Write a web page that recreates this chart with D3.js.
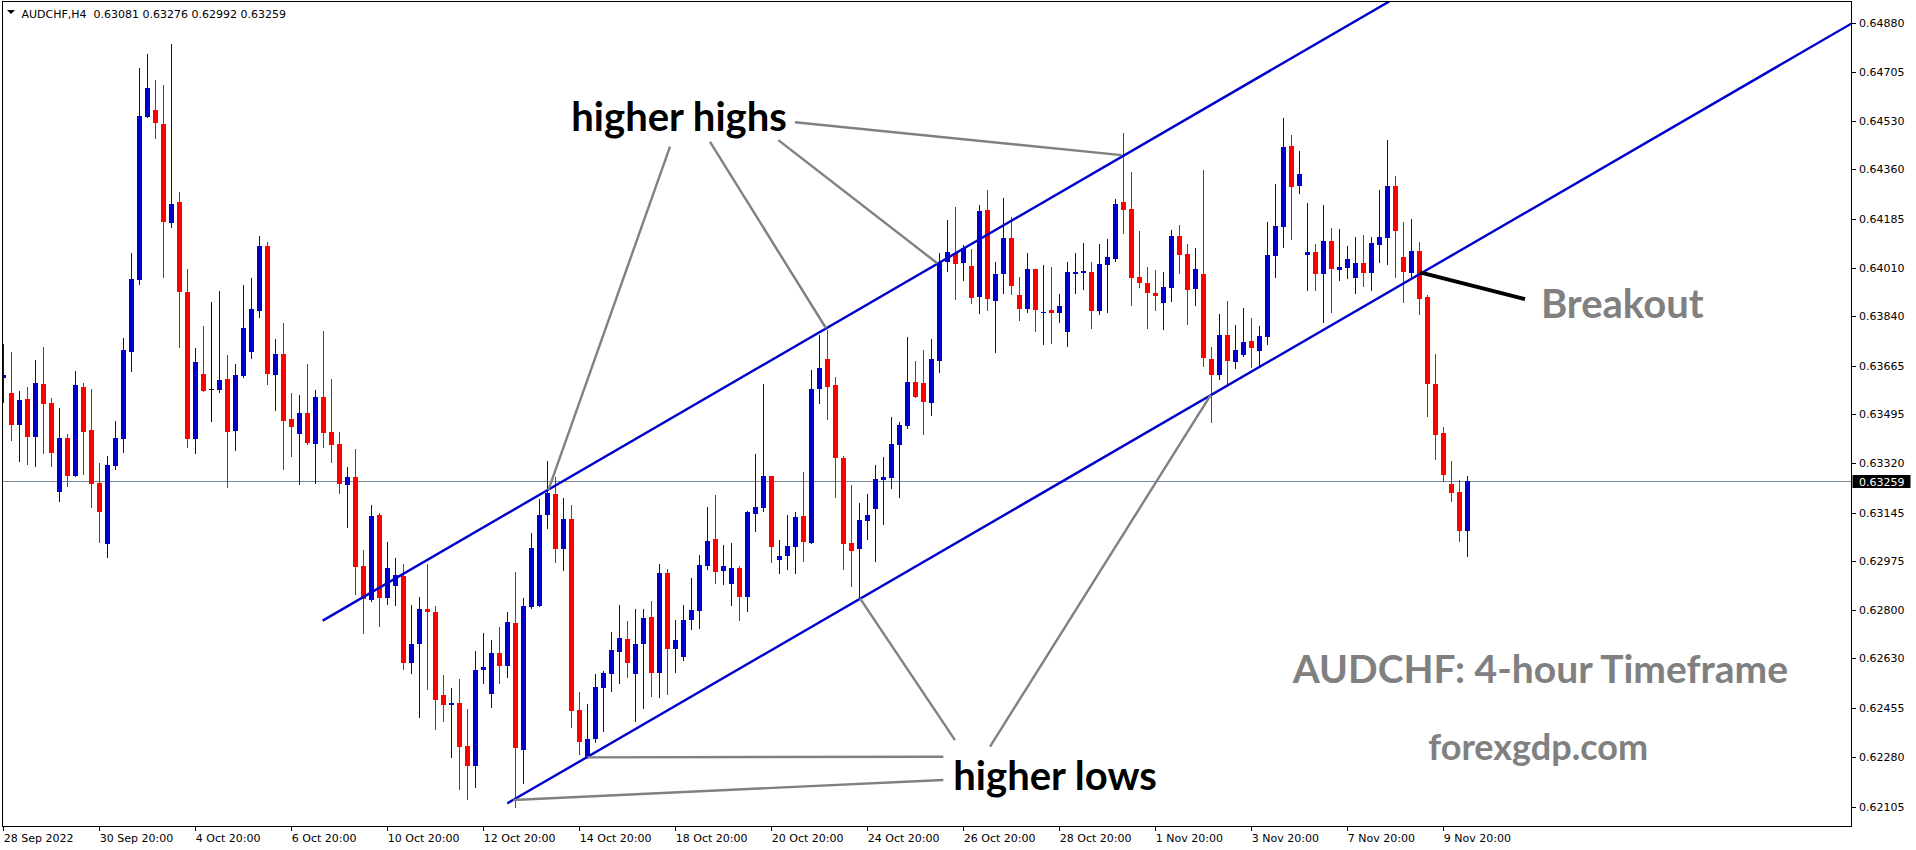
<!DOCTYPE html>
<html><head><meta charset="utf-8">
<script src="https://cdn.jsdelivr.net/npm/d3@7/dist/d3.min.js"></script>
<style>
html,body{margin:0;padding:0;background:#fff;}
svg{display:block;}
</style></head>
<body>
<svg id="chart" width="1916" height="850"></svg>
<script>
// ---------- data ----------
const symbolTitle = "AUDCHF,H4";
const lastOHLC = [0.63081, 0.63276, 0.62992, 0.63259];
const currentPrice = 0.63259;

const dateLabels = ["28 Sep 2022","30 Sep 20:00","4 Oct 20:00","6 Oct 20:00","10 Oct 20:00","12 Oct 20:00","14 Oct 20:00","18 Oct 20:00","20 Oct 20:00","24 Oct 20:00","26 Oct 20:00","28 Oct 20:00","1 Nov 20:00","3 Nov 20:00","7 Nov 20:00","9 Nov 20:00"];
const barsPerDateLabel = 12;

const priceTicks = [0.64880,0.64705,0.64530,0.64360,0.64185,0.64010,0.63840,0.63665,0.63495,0.63320,0.63145,0.62975,0.62800,0.62630,0.62455,0.62280,0.62105];

const open = [0.63621,0.63568,0.63457,0.63548,0.63414,0.63601,0.63534,0.63219,0.63410,0.63276,
0.63590,0.63438,0.63251,0.63036,0.63310,0.63407,0.63715,0.63970,0.64547,0.64571,
0.64521,0.64172,0.64245,0.63926,0.63407,0.63636,0.63582,0.63581,0.63619,0.63435,
0.63628,0.63715,0.63860,0.64089,0.63634,0.63707,0.63477,0.63422,0.63497,0.63388,
0.63554,0.63431,0.63388,0.63244,0.63271,0.62956,0.62836,0.63137,0.62844,0.62887,
0.62921,0.62614,0.62681,0.62803,0.62794,0.62500,0.62465,0.62471,0.62319,0.62249,
0.62589,0.62504,0.62648,0.62603,0.62755,0.62305,0.62812,0.62815,0.63137,0.63211,
0.63018,0.63123,0.62447,0.62281,0.62345,0.62526,0.62575,0.62653,0.62698,0.62575,
0.62680,0.62775,0.62579,0.62932,0.62664,0.62635,0.62765,0.62798,0.62957,0.63052,
0.62940,0.62893,0.62950,0.62848,0.63142,0.63163,0.63275,0.62979,0.62992,0.63025,
0.63133,0.63039,0.63584,0.63689,0.63597,0.63340,0.63038,0.63018,0.63117,0.63159,
0.63262,0.63268,0.63386,0.63452,0.63608,0.63604,0.63534,0.63683,0.64034,0.64064,
0.64030,0.64019,0.63910,0.64217,0.63896,0.63991,0.64117,0.63916,0.63867,0.64008,
0.63853,0.63863,0.63853,0.63784,0.63991,0.63995,0.63997,0.63860,0.64023,0.64044,
0.64245,0.64221,0.63979,0.63958,0.63924,0.63888,0.63942,0.64125,0.64061,0.63938,
0.63990,0.63689,0.63634,0.63774,0.63680,0.63703,0.63753,0.63719,0.63767,0.64054,
0.64156,0.64443,0.64302,0.64058,0.64068,0.63990,0.64107,0.64004,0.64011,0.63976,
0.64029,0.63994,0.64093,0.64117,0.64302,0.64050,0.63994,0.64072,0.63909,0.63601,
0.63427,0.63247,0.63218,0.63081];

const high = [0.63741,0.63714,0.63576,0.63590,0.63686,0.63731,0.63551,0.63516,0.63424,0.63646,
0.63605,0.63584,0.63321,0.63347,0.63469,0.63764,0.64065,0.64721,0.64769,0.64677,
0.64659,0.64805,0.64280,0.64008,0.63728,0.63806,0.63891,0.63930,0.63703,0.63672,
0.63951,0.63976,0.64124,0.64103,0.63760,0.63817,0.63569,0.63562,0.63671,0.63579,
0.63788,0.63617,0.63431,0.63308,0.63371,0.63013,0.63172,0.63144,0.63041,0.62986,
0.62963,0.62818,0.62848,0.62963,0.62816,0.62571,0.62526,0.62556,0.62450,0.62657,
0.62720,0.62694,0.62742,0.62794,0.62935,0.62843,0.63074,0.63194,0.63328,0.63273,
0.63197,0.63173,0.62510,0.62468,0.62574,0.62586,0.62723,0.62819,0.62762,0.62804,
0.62805,0.62832,0.62963,0.62947,0.62765,0.62819,0.62914,0.62995,0.63165,0.63207,
0.63030,0.63037,0.62956,0.63151,0.63353,0.63601,0.63275,0.63048,0.63137,0.63148,
0.63289,0.63650,0.63774,0.63792,0.63625,0.63346,0.63243,0.63179,0.63211,0.63314,
0.63342,0.63485,0.63467,0.63767,0.63683,0.63721,0.63760,0.64064,0.64181,0.64227,
0.64093,0.64079,0.64234,0.64287,0.64031,0.64259,0.64193,0.63979,0.64064,0.64008,
0.64022,0.64015,0.63919,0.64033,0.64064,0.64100,0.64033,0.64096,0.64114,0.64256,
0.64489,0.64351,0.64142,0.64015,0.64004,0.63997,0.64146,0.64164,0.64096,0.64082,
0.64358,0.63732,0.63848,0.63895,0.63810,0.63870,0.63834,0.63806,0.64174,0.64309,
0.64542,0.64482,0.64426,0.64241,0.64096,0.64234,0.64153,0.64149,0.64089,0.64121,
0.64128,0.64121,0.64287,0.64464,0.64337,0.64174,0.64185,0.64103,0.63916,0.63707,
0.63448,0.63328,0.63261,0.63276];

const low = [0.63537,0.63404,0.63329,0.63319,0.63309,0.63358,0.63311,0.63188,0.63241,0.63274,
0.63283,0.63166,0.63042,0.62988,0.63301,0.63361,0.63648,0.63956,0.64547,0.64473,
0.63979,0.64157,0.63731,0.63376,0.63358,0.63577,0.63471,0.63571,0.63236,0.63368,
0.63625,0.63691,0.63839,0.63602,0.63510,0.63301,0.63347,0.63245,0.63388,0.63249,
0.63379,0.63325,0.63216,0.63096,0.62857,0.62720,0.62834,0.62745,0.62822,0.62818,
0.62593,0.62579,0.62423,0.62520,0.62380,0.62409,0.62281,0.62168,0.62133,0.62173,
0.62543,0.62456,0.62543,0.62565,0.62104,0.62187,0.62807,0.62815,0.63092,0.62972,
0.62943,0.62388,0.62291,0.62277,0.62334,0.62372,0.62515,0.62543,0.62565,0.62409,
0.62455,0.62497,0.62494,0.62502,0.62582,0.62625,0.62734,0.62738,0.62947,0.62897,
0.62893,0.62818,0.62765,0.62798,0.63080,0.63152,0.62971,0.62932,0.62946,0.62933,
0.62974,0.63039,0.63534,0.63478,0.63202,0.62947,0.62886,0.62848,0.63053,0.62975,
0.63106,0.63233,0.63202,0.63445,0.63556,0.63424,0.63492,0.63644,0.64002,0.63903,
0.63969,0.63888,0.63851,0.63863,0.63715,0.63924,0.63918,0.63827,0.63854,0.63787,
0.63743,0.63747,0.63820,0.63736,0.63924,0.63937,0.63800,0.63847,0.63857,0.64037,
0.64136,0.63881,0.63945,0.63800,0.63864,0.63796,0.63895,0.63995,0.63814,0.63881,
0.63665,0.63467,0.63619,0.63601,0.63658,0.63700,0.63661,0.63662,0.63742,0.63979,
0.64086,0.64114,0.64277,0.63933,0.63933,0.63820,0.63856,0.63969,0.63976,0.63923,
0.63948,0.63933,0.64033,0.64025,0.63979,0.63891,0.63976,0.63848,0.63487,0.63335,
0.63257,0.63187,0.63045,0.62992];

const close = [0.63634,0.63457,0.63544,0.63414,0.63605,0.63531,0.63358,0.63410,0.63276,0.63597,
0.63429,0.63248,0.63146,0.63314,0.63410,0.63721,0.63973,0.64549,0.64649,0.64523,
0.64175,0.64238,0.63925,0.63407,0.63678,0.63577,0.63582,0.63615,0.63431,0.63633,
0.63799,0.63867,0.64089,0.63637,0.63707,0.63471,0.63449,0.63498,0.63391,0.63554,
0.63428,0.63386,0.63248,0.63271,0.62954,0.62839,0.63133,0.62844,0.62949,0.62923,
0.62614,0.62680,0.62804,0.62795,0.62483,0.62465,0.62471,0.62317,0.62249,0.62588,
0.62599,0.62648,0.62603,0.62758,0.62313,0.62815,0.63020,0.63137,0.63216,0.63018,
0.63123,0.62444,0.62333,0.62343,0.62528,0.62578,0.62659,0.62702,0.62614,0.62680,
0.62772,0.62579,0.62932,0.62664,0.62694,0.62765,0.62801,0.62959,0.63045,0.62936,
0.62956,0.62950,0.62848,0.63148,0.63165,0.63275,0.63025,0.62992,0.63027,0.63130,
0.63041,0.63583,0.63657,0.63590,0.63340,0.63034,0.63010,0.63119,0.63137,0.63264,
0.63270,0.63388,0.63456,0.63608,0.63556,0.63538,0.63689,0.64034,0.64068,0.64027,
0.64083,0.63906,0.64213,0.63900,0.63990,0.64117,0.63949,0.63867,0.64008,0.63864,
0.63857,0.63853,0.63877,0.63997,0.63997,0.64001,0.63860,0.64025,0.64050,0.64238,
0.64218,0.63977,0.63959,0.63924,0.63913,0.63944,0.64125,0.64058,0.63935,0.64008,
0.63694,0.63633,0.63774,0.63683,0.63721,0.63749,0.63728,0.63771,0.64057,0.64160,
0.64440,0.64299,0.64344,0.64068,0.63990,0.64107,0.64008,0.64015,0.64043,0.64029,
0.63994,0.64100,0.64121,0.64302,0.64142,0.63997,0.64072,0.63902,0.63601,0.63420,
0.63279,0.63215,0.63080,0.63259];

// channel lines: [barIndex, price] pairs
const upperChannel = [[39.93, 0.62763],[180, 0.65066]];
const lowerChannel = [[63.0, 0.62116],[231.1, 0.64878]];
// annotation pointer lines
const highsPointers = [
  [[83.34,0.64441],[68.13,0.63225]],
  [[88.34,0.64458],[102.84,0.63798]],
  [[96.88,0.64464],[116.75,0.64028]],
  [[98.96,0.64527],[139.80,0.64411]]
];
const lowsPointers = [
  [[73.0,0.62279],[117.5,0.62281]],
  [[63.75,0.62128],[117.5,0.62199]],
  [[107.09,0.62842],[118.96,0.62340]],
  [[123.34,0.62317],[150.93,0.63562]]
];
const breakoutPointer = [[177.09,0.63996],[190.21,0.63901]];

const annotations = [
  {text:"higher highs", bar:71.0, price:0.64495, size:40, color:"#000"},
  {text:"higher lows", bar:118.75, price:0.62164, size:40, color:"#000"},
  {text:"Breakout", bar:192.2, price:0.63833, size:40, color:"#808080"},
  {text:"AUDCHF: 4-hour Timeframe", bar:223.1, price:0.62541, size:39, color:"#808080", anchor:"end"},
  {text:"forexgdp.com", bar:205.6, price:0.62270, size:36, color:"#808080", anchor:"end"}
];

// ---------- layout ----------
const W = 1916, H = 850;
const plot = {left:2.5, top:1.5, right:1851.5, bottom:826.5};
const svg = d3.select("#chart");

const x = d3.scaleLinear().domain([0, 183]).range([3.3, 1467.3]);
const y = d3.scaleLinear().domain([0.62105, 0.64880]).range([806.5, 22.6]);

const bars = d3.range(open.length).map(i => ({i, o:open[i], h:high[i], l:low[i], c:close[i]}));
const BULL = "#0000CD", BEAR = "#FF0000";
const colorOf = d => d.c > d.o ? BULL : (d.c < d.o ? BEAR : "#000000");

svg.append("rect").attr("width", W).attr("height", H).attr("fill", "#fff");

const defs = svg.append("defs");
defs.append("clipPath").attr("id","plotclip").append("rect")
  .attr("x", plot.left).attr("y", plot.top)
  .attr("width", plot.right - plot.left).attr("height", plot.bottom - plot.top);

const g = svg.append("g").attr("clip-path","url(#plotclip)");

// current price line (behind candles)
g.append("line")
  .attr("x1", plot.left).attr("x2", plot.right)
  .attr("y1", Math.round(y(currentPrice)) + 0.5).attr("y2", Math.round(y(currentPrice)) + 0.5)
  .attr("stroke", "#778899").attr("stroke-width", 1);

// candles
const cg = g.append("g").attr("shape-rendering","crispEdges");
cg.selectAll("rect.wick").data(bars).join("rect").attr("class","wick")
  .attr("x", d => Math.round(x(d.i)))
  .attr("y", d => Math.round(y(d.h)))
  .attr("width", 1)
  .attr("height", d => Math.max(1, Math.round(y(d.l)) - Math.round(y(d.h)) + 1))
  .attr("fill", colorOf);
cg.selectAll("rect.body").data(bars).join("rect").attr("class","body")
  .attr("x", d => Math.round(x(d.i)) - 2)
  .attr("y", d => Math.round(y(Math.max(d.o, d.c))))
  .attr("width", 5)
  .attr("height", d => Math.max(1, Math.round(y(Math.min(d.o, d.c))) - Math.round(y(Math.max(d.o, d.c)))))
  .attr("fill", colorOf);

// lines
const lineGen = d3.line().x(p => x(p[0])).y(p => y(p[1]));
g.append("path").attr("d", lineGen(upperChannel)).attr("stroke", BULL).attr("stroke-width", 2.4).attr("fill","none");
g.append("path").attr("d", lineGen(lowerChannel)).attr("stroke", BULL).attr("stroke-width", 2.4).attr("fill","none");
highsPointers.concat(lowsPointers).forEach(seg => {
  g.append("path").attr("d", lineGen(seg)).attr("stroke", "#808080").attr("stroke-width", 2.4).attr("fill","none");
});
g.append("path").attr("d", lineGen(breakoutPointer)).attr("stroke", "#000").attr("stroke-width", 4).attr("fill","none");

// annotation texts
annotations.forEach(a => {
  g.append("text").attr("x", x(a.bar)).attr("y", y(a.price))
    .attr("text-anchor", a.anchor || "start")
    .attr("font-family", "Lato, 'Open Sans', sans-serif").attr("font-weight", 700)
    .attr("font-size", a.size).attr("fill", a.color).text(a.text);
});

// frame
svg.append("rect").attr("x", plot.left).attr("y", plot.top)
  .attr("width", plot.right - plot.left).attr("height", plot.bottom - plot.top)
  .attr("fill","none").attr("stroke","#000").attr("stroke-width",1).attr("shape-rendering","crispEdges");

const FONT = "'DejaVu Sans', Verdana, sans-serif";

// price axis
const ya = svg.append("g");
ya.selectAll("line").data(priceTicks).join("line")
  .attr("x1", plot.right).attr("x2", plot.right + 4)
  .attr("y1", d => Math.round(y(d)) + 0.5).attr("y2", d => Math.round(y(d)) + 0.5)
  .attr("stroke","#000").attr("shape-rendering","crispEdges");
ya.selectAll("text").data(priceTicks).join("text")
  .attr("x", plot.right + 7.5).attr("y", d => y(d) + 4)
  .attr("font-family", FONT).attr("font-size", 11).attr("fill","#000")
  .text(d => d.toFixed(5));

// current price label
const cpY = Math.round(y(currentPrice));
svg.append("rect").attr("x", plot.right + 1).attr("y", cpY - 6).attr("width", 58).attr("height", 13).attr("fill","#000");
svg.append("text").attr("x", plot.right + 7.5).attr("y", cpY + 4.5)
  .attr("font-family", FONT).attr("font-size", 11).attr("fill","#fff").text(currentPrice.toFixed(5));

// time axis
const xa = svg.append("g");
xa.selectAll("line").data(dateLabels).join("line")
  .attr("x1", (d,k) => Math.round(x(k*barsPerDateLabel)) + 0.5).attr("x2", (d,k) => Math.round(x(k*barsPerDateLabel)) + 0.5)
  .attr("y1", plot.bottom).attr("y2", plot.bottom + 4)
  .attr("stroke","#000").attr("shape-rendering","crispEdges");
xa.selectAll("text").data(dateLabels).join("text")
  .attr("x", (d,k) => x(k*barsPerDateLabel) + 0.5).attr("y", 842)
  .attr("font-family", FONT).attr("font-size", 11).attr("fill","#000")
  .text(d => d);

// header
svg.append("path").attr("d","M7,10 L15,10 L11,14 Z").attr("fill","#000");
svg.append("text").attr("x", 21.5).attr("y", 17.5)
  .attr("font-family", FONT).attr("font-size", 11).attr("fill","#000").attr("xml:space","preserve")
  .text(symbolTitle + "  " + lastOHLC.map(v => v.toFixed(5)).join(" "));
</script>
</body></html>
